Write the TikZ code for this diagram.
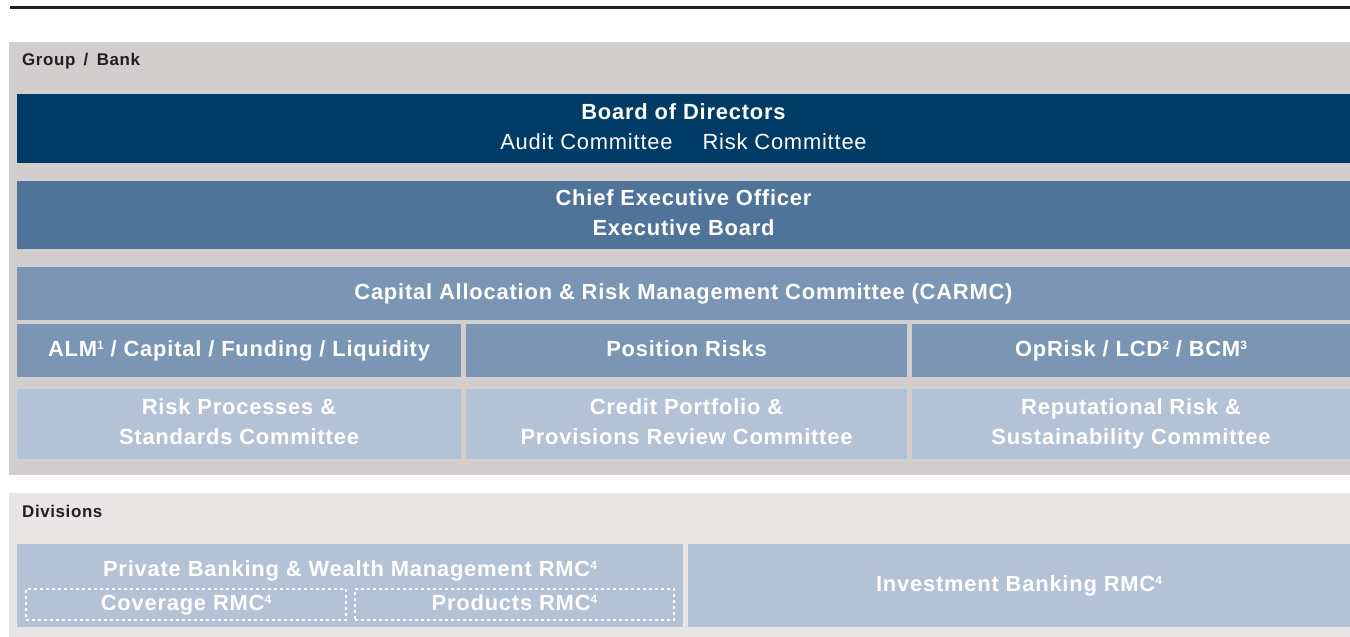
\documentclass[tikz,border=0pt]{standalone}
\usepackage{fontspec}
\setmainfont{Liberation Sans}[LetterSpace=3.6]
\definecolor{rulecol}{HTML}{231F20}
\definecolor{grouppanel}{HTML}{D3CECE}
\definecolor{divpanel}{HTML}{E7E6E4}
\definecolor{boardcol}{HTML}{003C66}
\definecolor{ceocol}{HTML}{50739A}
\definecolor{midcol}{HTML}{7B95B5}
\definecolor{lightcol}{HTML}{B4C2D5}
\definecolor{labelcol}{HTML}{231F20}
\newcommand\mystrut{\rule[-4.6bp]{0pt}{20.4bp}}
\newcommand\supnum[1]{\raisebox{7bp}{\fontsize{12}{12}\selectfont #1}}
\tikzset{
  panel/.style={fill=#1, draw=none, inner sep=0pt, outer sep=0pt, anchor=north west},
  box/.style={fill=#1, draw=none, inner sep=0pt, outer sep=0pt, anchor=north west,
    text=white, align=center, font=\fontsize{22}{30}\selectfont\bfseries},
  dotbox/.style={draw=white, dash pattern=on 3bp off 3bp, line width=2.2bp,
    inner sep=0pt, outer sep=0pt, anchor=north west,
    text=white, align=center, font=\fontsize{22}{30}\selectfont\bfseries},
  sectionlabel/.style={anchor=west, inner sep=0pt, text=labelcol,
    font=\fontsize{17}{20}\selectfont\bfseries},
  plaintext/.style={inner sep=0pt, text=white, font=\fontsize{22}{30}\selectfont\bfseries}
}
\begin{document}
\begin{tikzpicture}[x=1bp,y=-1bp]
\useasboundingbox (0,0) rectangle (1350,637);
\fill[white] (0,0) rectangle (1350,637);
% top rule
\coordinate (ruleL) at (10,7.5);
\coordinate (ruleR) at (1350,7.5);
\draw[rulecol, line width=3bp] (ruleL) -- (ruleR);
% panels
\node[panel=grouppanel, minimum width=1341bp, minimum height=433bp] (group) at (9,42) {};
\node[panel=divpanel, minimum width=1341bp, minimum height=144bp] (divs) at (9,493) {};
\node[sectionlabel] (grouplabel) at (22,61) {Group\ \hspace{3bp}/\ \hspace{3bp}Bank};
\node[sectionlabel] (divlabel) at (22,511) {Divisions};
% group boxes
\node[box=boardcol, minimum width=1333bp, minimum height=69bp] (board) at (17,94)
  {\mystrut Board of Directors\\{\mdseries\mystrut Audit Committee\hspace{30bp}Risk Committee}};
\node[box=ceocol, minimum width=1333bp, minimum height=68bp] (ceo) at (17,181)
  {\mystrut Chief Executive Officer\\\mystrut Executive Board};
\node[box=midcol, minimum width=1333bp, minimum height=53bp] (carmc) at (17,267)
  {\mystrut Capital Allocation \& Risk Management Committee (CARMC)};
\node[box=midcol, minimum width=444bp, minimum height=53bp] (alm) at (17,324)
  {\mystrut ALM\supnum{1} / Capital / Funding / Liquidity};
\node[box=midcol, minimum width=441bp, minimum height=53bp] (pos) at (466,324)
  {\mystrut Position Risks};
\node[box=midcol, minimum width=438bp, minimum height=53bp] (oprisk) at (912,324)
  {\mystrut OpRisk / LCD\supnum{2} / BCM\supnum{3}};
\node[box=lightcol, minimum width=444bp, minimum height=70bp] (rpsc) at (17,389)
  {\mystrut Risk Processes \&\\\mystrut Standards Committee};
\node[box=lightcol, minimum width=441bp, minimum height=70bp] (cpprc) at (466,389)
  {\mystrut Credit Portfolio \&\\\mystrut Provisions Review Committee};
\node[box=lightcol, minimum width=438bp, minimum height=70bp] (rrsc) at (912,389)
  {\mystrut Reputational Risk \&\\\mystrut Sustainability Committee};
% divisions
\node[panel=lightcol, minimum width=666bp, minimum height=83bp] (pb) at (17,544) {};
\node[plaintext] (pbtext) at (350,571) {\mystrut Private Banking \& Wealth Management RMC\supnum{4}};
\node[dotbox, minimum width=320bp, minimum height=31bp] (cov) at (26,589) {\mystrut Coverage RMC\supnum{4}};
\node[dotbox, minimum width=319bp, minimum height=31bp] (prod) at (355,589) {\mystrut Products RMC\supnum{4}};
\node[box=lightcol, minimum width=662bp, minimum height=83bp] (ib) at (688,544)
  {\mystrut Investment Banking RMC\supnum{4}};
\end{tikzpicture}
\end{document}
